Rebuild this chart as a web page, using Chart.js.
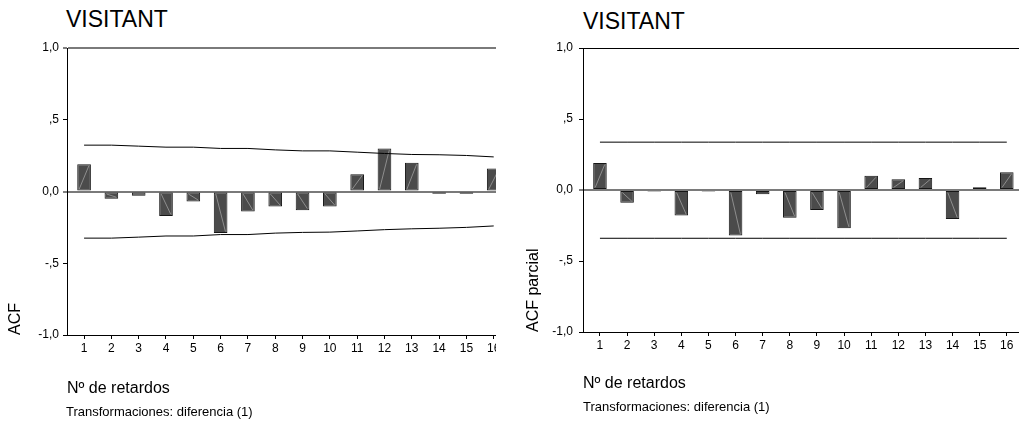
<!DOCTYPE html>
<html>
<head>
<meta charset="utf-8">
<script src="https://cdn.jsdelivr.net/npm/chart.js@4/dist/chart.umd.min.js"></script>
<style>
  body { margin: 0; background: #fff; width: 1019px; height: 428px; position: relative; overflow: hidden;
         font-family: Arial, "Liberation Sans", sans-serif; color: #000; }
  .title { position: absolute; font-size: 23px; line-height: 23px; }
  .note { position: absolute; font-size: 13px; line-height: 13px; }
  #wrapL { position: absolute; left: 0; top: 0; width: 496px; height: 428px; overflow: hidden; }
  #wrapR { position: absolute; left: 520px; top: 0; width: 499px; height: 428px; }
</style>
</head>
<body>
<div class="title" style="left:66px;top:8px">VISITANT</div>
<div class="title" style="left:583px;top:10px">VISITANT</div>
<div id="wrapL"><canvas id="acf" width="540" height="428"></canvas></div>
<div id="wrapR"><canvas id="pacf" width="499" height="428"></canvas></div>
<div class="note" style="left:66px;top:405px">Transformaciones: diferencia (1)</div>
<div class="note" style="left:583px;top:400px">Transformaciones: diferencia (1)</div>

<script>
const lags = [1, 2, 3, 4, 5, 6, 7, 8, 9, 10, 11, 12, 13, 14, 15, 16];

const acf = [0.19, -0.05, -0.03, -0.17, -0.07, -0.29, -0.14, -0.105, -0.13, -0.105, 0.12, 0.30, 0.20, -0.015, -0.015, 0.16];
const acfUpper = [0.323, 0.323, 0.316, 0.309, 0.309, 0.300, 0.300, 0.290, 0.283, 0.283, 0.274, 0.265, 0.258, 0.256, 0.251, 0.241];
const acfLower = [-0.325, -0.325, -0.318, -0.310, -0.310, -0.300, -0.300, -0.290, -0.285, -0.283, -0.275, -0.266, -0.260, -0.256, -0.250, -0.240];

const pacf = [0.19, -0.09, -0.01, -0.18, -0.01, -0.32, -0.03, -0.195, -0.14, -0.27, 0.10, 0.075, 0.085, -0.205, 0.02, 0.125];
const pacfUpper = [0.337, 0.337, 0.337, 0.337, 0.337, 0.337, 0.337, 0.337, 0.337, 0.337, 0.337, 0.337, 0.337, 0.337, 0.337, 0.337];
const pacfLower = [-0.34, -0.34, -0.34, -0.34, -0.34, -0.34, -0.34, -0.34, -0.34, -0.34, -0.34, -0.34, -0.34, -0.34, -0.34, -0.34];

const yTickValues = [-1, -0.5, 0, 0.5, 1];
const yTickLabels = ['-1,0', '-,5', '0,0', ',5', '1,0'];

const FONT = 'Arial, "Liberation Sans", sans-serif';

// light diagonal stroke inside each bar, like the SPSS fill
const hatch = {
  id: 'hatch',
  afterDatasetDraw(chart, args) {
    if (args.meta.type !== 'bar') return;
    const ctx = chart.ctx;
    ctx.save();
    ctx.strokeStyle = '#8e8e8e';
    ctx.lineWidth = 1;
    args.meta.data.forEach(bar => {
      const { x, y, base, width } = bar.getProps(['x', 'y', 'base', 'width'], true);
      if (Math.abs(y - base) < 4) return;
      const s = y < base ? -1 : 1;
      ctx.beginPath();
      ctx.moveTo(x - width / 2 + 2, base + s * 1.5);
      ctx.lineTo(x + width / 2 - 2, y - s * 1.5);
      ctx.stroke();
    });
    ctx.restore();
  }
};

const points = (vals) => lags.map((x, i) => ({ x: x, y: vals[i] }));

function makeChart(id, values, upper, lower, c) {
  return new Chart(document.getElementById(id), {
    type: 'bar',
    data: {
      datasets: [
        { type: 'line', data: points(upper), borderColor: '#000', borderWidth: 1, pointRadius: 0, fill: false, order: 1 },
        { type: 'line', data: points(lower), borderColor: '#000', borderWidth: 1, pointRadius: 0, fill: false, order: 1 },
        { type: 'bar', data: points(values), backgroundColor: '#4b4b4b', borderColor: '#161616', borderWidth: 1,
          borderSkipped: false, barPercentage: 0.5, categoryPercentage: 1, order: 2 }
      ]
    },
    options: {
      responsive: false,
      animation: false,
      events: [],
      layout: { padding: { left: 0, top: c.top, right: c.right, bottom: 0 } },
      plugins: { legend: { display: false }, tooltip: { enabled: false } },
      scales: {
        x: {
          type: 'linear', min: 0.375, max: 16.45, offset: false,
          afterBuildTicks: s => { s.ticks = lags.map(v => ({ value: v })); },
          afterFit: s => { s.height = c.xHeight; },
          ticks: { stepSize: 1, autoSkip: false, maxRotation: 0, padding: 2, color: '#000',
                   font: { family: FONT, size: 12 }, callback: v => String(v) },
          grid: { offset: false, drawOnChartArea: false, tickLength: 4, color: '#000' },
          border: { color: '#000', width: 1 },
          title: { display: true, text: 'Nº de retardos', align: 'start', color: '#000',
                   font: { family: FONT, size: 16 }, padding: { top: 0, bottom: c.xTitlePad } }
        },
        y: {
          min: -1, max: 1,
          afterBuildTicks: s => { s.ticks = yTickValues.map(v => ({ value: v })); },
          afterFit: s => { s.width = c.yWidth; },
          ticks: { stepSize: 0.5, padding: c.tickPad, color: '#000', font: { family: FONT, size: 12 },
                   callback: v => yTickLabels[yTickValues.indexOf(v)] },
          grid: {
            color: ctx => ctx.tick.value === 0 ? '#7a7a7a' : (ctx.tick.value === 1 ? c.topColor : 'rgba(0,0,0,0)'),
            lineWidth: ctx => ctx.tick.value === 0 ? 2 : (ctx.tick.value === 1 ? c.topWidth : 1),
            tickColor: '#000', tickWidth: 1, tickLength: 4
          },
          border: { color: '#000', width: 1 },
          title: { display: true, text: c.yTitle, align: 'start', color: '#000',
                   font: { family: FONT, size: 16 }, padding: { top: c.yTitlePad, bottom: 0 } }
        }
      }
    },
    plugins: [hatch]
  });
}

makeChart('acf', acf, acfUpper, acfLower, {
  top: 48, right: 34, xHeight: 93, yWidth: 67, tickPad: 4,
  xTitlePad: 30, yTitle: 'ACF', yTitlePad: 6, topColor: '#7a7a7a', topWidth: 2
});

makeChart('pacf', pacf, pacfUpper, pacfLower, {
  top: 48, right: 0, xHeight: 96, yWidth: 63, tickPad: 6,
  xTitlePad: 35, yTitle: 'ACF parcial', yTitlePad: 4, topColor: '#000', topWidth: 1
});
</script>
</body>
</html>
